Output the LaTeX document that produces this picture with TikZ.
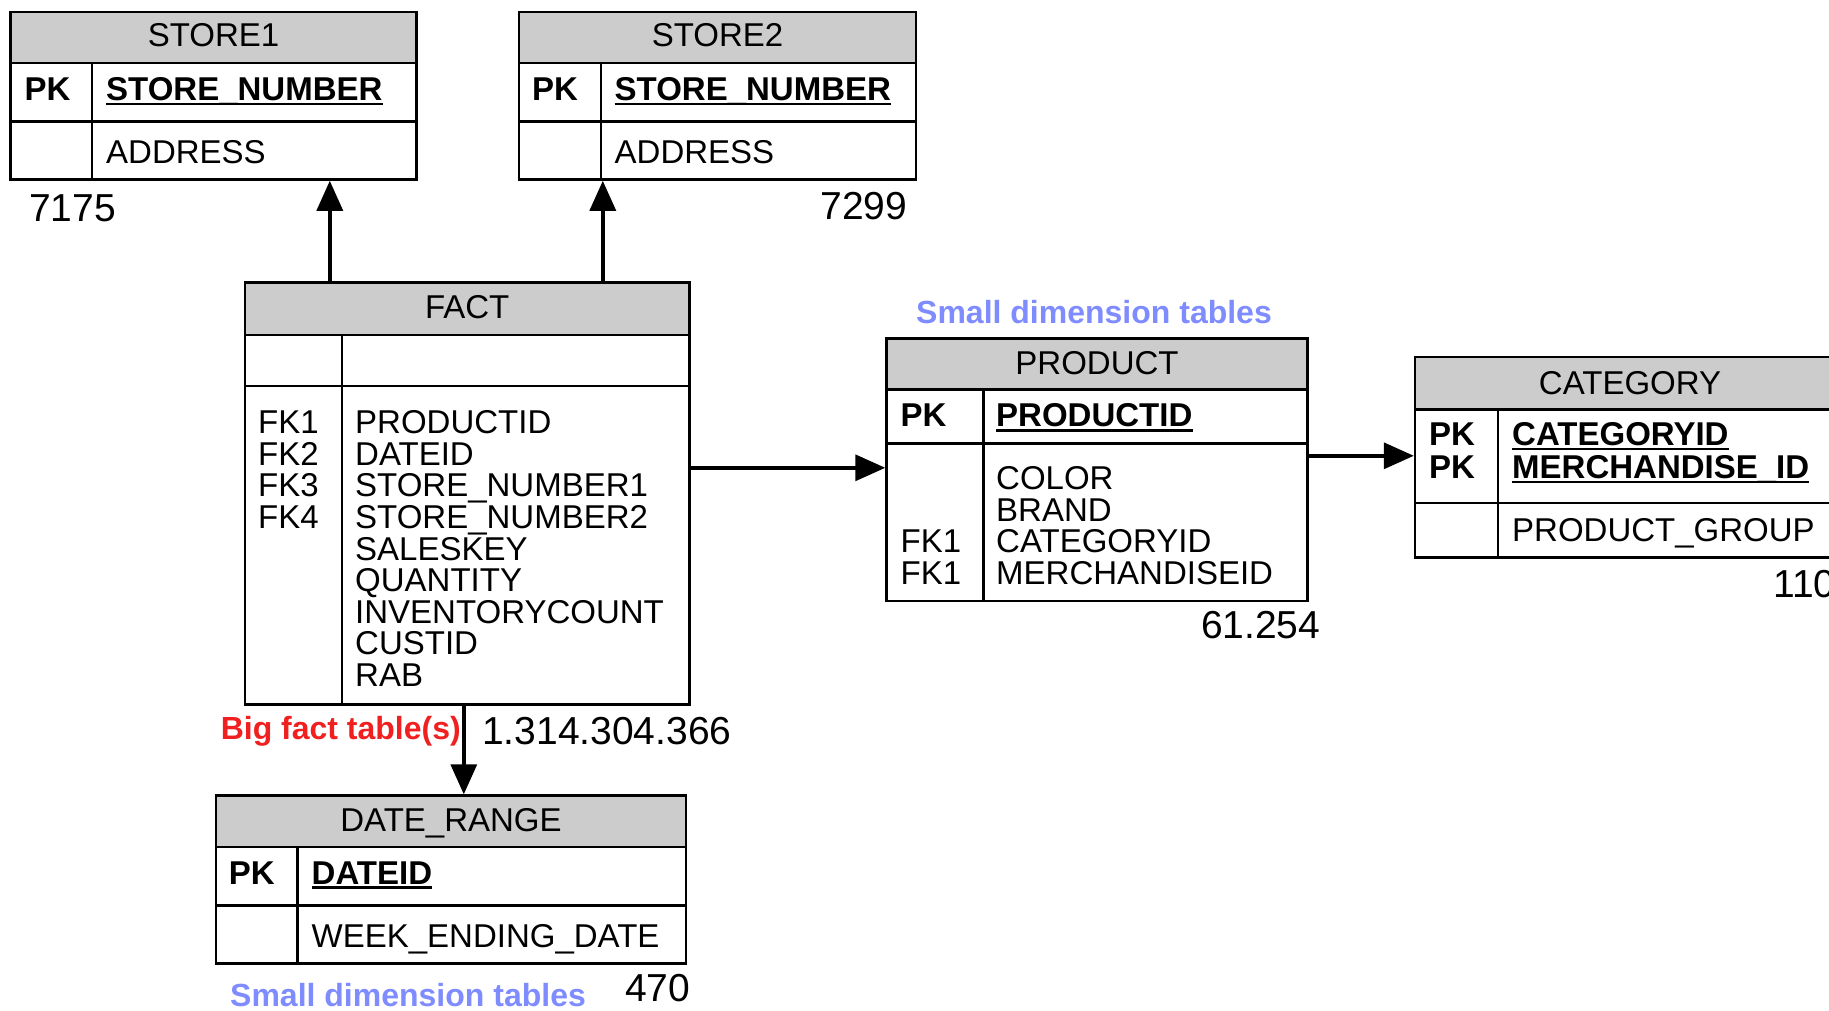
\documentclass[tikz,border=0pt]{standalone}
\usepackage{fontspec}
\setmainfont{Liberation Sans}
\usetikzlibrary{arrows.meta,fit}
\definecolor{hdrgray}{HTML}{CCCCCC}
\definecolor{dimblue}{HTML}{7F8CFF}
\definecolor{factred}{HTML}{F02020}

% #1 name, #2 left, #3 top, #4 right, #5 bottom,
% #6 bottom of header band, #7 row divider, #8 column divider
\newcommand\ertable[8]{%
  \fill[hdrgray] (#2,#3) rectangle (#4,#6);
  \draw[tline] (#2,#6) -- (#4,#6);
  \draw[tline] (#2,#7) -- (#4,#7);
  \draw[tline] (#8,#6) -- (#8,#5);
  \node[outline, fit={(#2,#3) (#4,#5)}] (#1) {};
}

\begin{document}
\begin{tikzpicture}[x=1pt,y=-1pt,
  txt/.style={inner sep=0pt, font=\fontsize{33}{39}\selectfont},
  fld/.style={txt, anchor=base west},
  hdr/.style={txt, anchor=base},
  pk/.style={inner sep=0pt, anchor=base west, font=\fontsize{33}{39}\selectfont\bfseries},
  num/.style={inner sep=0pt, font=\fontsize{39}{46}\selectfont},
  note/.style={inner sep=0pt, font=\fontsize{32}{38}\selectfont\bfseries},
  tline/.style={line width=2.4pt},
  outline/.style={draw, line width=2.4pt, inner sep=0pt},
  uline/.style={line width=2.4pt},
  fk/.style={-{Triangle[length=30pt,width=26pt]}, line width=3.4pt},
]
\useasboundingbox (0,0) rectangle (1829,1010);

% ---------- STORE1 ----------
\ertable{store1}{10.5}{11.7}{416.5}{179.6}{63}{121.3}{92}
\node[hdr] (s1h) at (213.5,46.6) {STORE1};
\node[pk] (s1pk) at (24.5,100.3) {PK};
\node[pk] (s1k) at (106,100.3) {STORE\_NUMBER};
\draw[uline] ([yshift=-3.5pt]s1k.base west) -- ([yshift=-3.5pt]s1k.base east);
\node[fld] (s1a) at (106,163.2) {ADDRESS};
\node[num, anchor=base west] (s1n) at (29,221.6) {7175};

% ---------- STORE2 ----------
\ertable{store2}{519}{11.7}{916}{179.6}{63}{121.3}{601}
\node[hdr] (s2h) at (717.5,46.6) {STORE2};
\node[pk] (s2pk) at (532,100.3) {PK};
\node[pk] (s2k) at (614.5,100.3) {STORE\_NUMBER};
\draw[uline] ([yshift=-3.5pt]s2k.base west) -- ([yshift=-3.5pt]s2k.base east);
\node[fld] (s2a) at (614.5,163.2) {ADDRESS};
\node[num, anchor=base east] (s2n) at (907.5,219) {7299};

% ---------- FACT ----------
\ertable{fact}{245}{282.3}{689.5}{704.6}{334.8}{386}{342}
\node[hdr] (fh) at (467.2,318.4) {FACT};
\foreach \t [count=\i] in {FK1,FK2,FK3,FK4}
  \node[fld] (fact-k\i) at (258,{433.6+31.6*(\i-1)}) {\t};
\foreach \t [count=\i] in {PRODUCTID,DATEID,STORE\_NUMBER1,STORE\_NUMBER2,SALESKEY,QUANTITY,INVENTORYCOUNT,CUSTID,RAB}
  \node[fld] (fact-f\i) at (355,{433.6+31.6*(\i-1)}) {\t};
\node[note, text=factred, anchor=base east] (bigfact) at (461,739.5) {Big fact table(s)};
\node[num, anchor=base west] (fn) at (482,744) {1.314.304.366};

% ---------- PRODUCT ----------
\node[note, text=dimblue, anchor=base] (dim1) at (1094,323) {Small dimension tables};
\ertable{product}{886.5}{338.3}{1307.6}{600.7}{389.6}{443.3}{983.4}
\node[hdr] (ph) at (1097,374.4) {PRODUCT};
\node[pk] (ppk) at (900.5,426.9) {PK};
\node[pk] (pk1) at (996,426.9) {PRODUCTID};
\draw[uline] ([yshift=-3.5pt]pk1.base west) -- ([yshift=-3.5pt]pk1.base east);
\node[fld] (pf1) at (996,489.9) {COLOR};
\node[fld] (pf2) at (996,521.4) {BRAND};
\node[fld] (pk3) at (900.5,552.9) {FK1};
\node[fld] (pf3) at (996,552.9) {CATEGORYID};
\node[fld] (pk4) at (900.5,584.4) {FK1};
\node[fld] (pf4) at (996,584.4) {MERCHANDISEID};
\node[num, anchor=base east] (pn) at (1320.5,638) {61.254};

% ---------- CATEGORY ----------
\ertable{category}{1415}{357}{1845}{557.6}{409.5}{502.8}{1498}
\node[hdr] (ch) at (1630,394.2) {CATEGORY};
\node[pk] (cpk1) at (1429,445.6) {PK};
\node[pk] (ck1) at (1512,445.6) {CATEGORYID};
\draw[uline] ([yshift=-3.5pt]ck1.base west) -- ([yshift=-3.5pt]ck1.base east);
\node[pk] (cpk2) at (1429,478.2) {PK};
\node[pk] (ck2) at (1512,478.2) {MERCHANDISE\_ID};
\draw[uline] ([yshift=-3.5pt]ck2.base west) -- ([yshift=-3.5pt]ck2.base east);
\node[fld] (cf1) at (1512,541.2) {PRODUCT\_GROUP};
\node[num, anchor=base west] (cn) at (1773,597) {110};

% ---------- DATE_RANGE ----------
\ertable{daterange}{216}{795.5}{686}{963.5}{847}{905.3}{297.5}
\node[hdr] (dh) at (451,831.6) {DATE\_RANGE};
\node[pk] (dpk) at (228.6,884.1) {PK};
\node[pk] (dk) at (311.5,884.1) {DATEID};
\draw[uline] ([yshift=-3.5pt]dk.base west) -- ([yshift=-3.5pt]dk.base east);
\node[fld] (df1) at (311.5,947.1) {WEEK\_ENDING\_DATE};
\node[num, anchor=base west] (dn) at (625,1001) {470};
\node[note, text=dimblue, anchor=base west] (dim2) at (230,1006.5) {Small dimension tables};

% ---------- references ----------
\draw[fk] ([xshift=86pt]fact.north west) -- ([xshift=86pt]fact.north west |- store1.south);
\draw[fk] ([xshift=359pt]fact.north west) -- ([xshift=359pt]fact.north west |- store2.south);
\draw[fk] ([yshift=-186.7pt]fact.north east) -- ([yshift=-186.7pt]fact.north east -| product.west);
\draw[fk] ([yshift=-118.7pt]product.north east) -- ([yshift=-118.7pt]product.north east -| category.west);
\draw[fk] ([xshift=220pt]fact.south west) -- ([xshift=220pt]fact.south west |- daterange.north);
\end{tikzpicture}
\end{document}
